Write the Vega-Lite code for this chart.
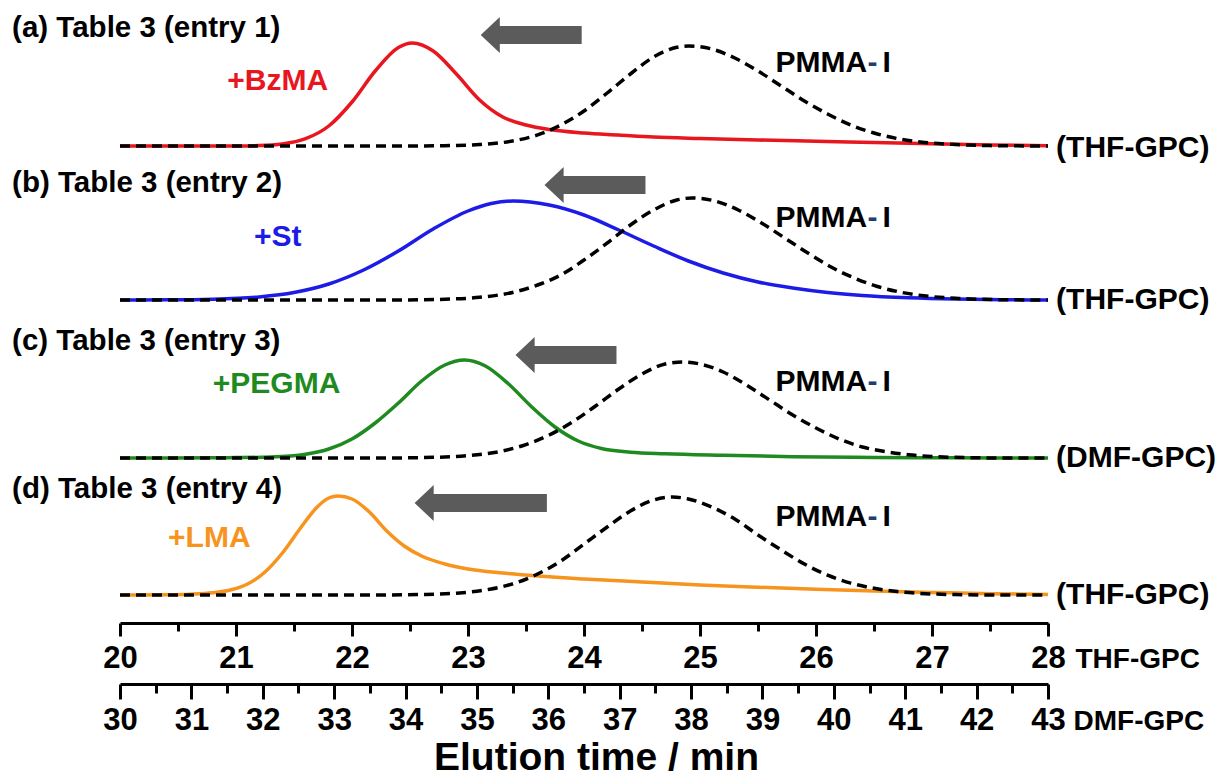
{
  "$schema": "https://vega.github.io/schema/vega-lite/v6.json",
  "width": 928,
  "height": 612,
  "autosize": {"type": "none"},
  "padding": {"left": 120, "top": 11, "right": 170, "bottom": 153},
  "background": "white",
  "config": {"view": {"stroke": null}, "font": "Liberation Sans"},
  "datasets": {
    "a_sample": [{"time":20,"signal":0},{"time":21,"signal":0.001},{"time":21.2,"signal":0.004},{"time":21.4,"signal":0.02},{"time":21.6,"signal":0.073},{"time":21.8,"signal":0.2},{"time":22,"signal":0.44},{"time":22.2,"signal":0.75},{"time":22.4,"signal":0.985},{"time":22.52,"signal":1.03},{"time":22.7,"signal":0.95},{"time":22.9,"signal":0.72},{"time":23.1,"signal":0.46},{"time":23.3,"signal":0.29},{"time":23.5,"signal":0.21},{"time":23.7,"signal":0.165},{"time":24,"signal":0.13},{"time":24.3,"signal":0.11},{"time":24.6,"signal":0.09},{"time":25,"signal":0.075},{"time":25.5,"signal":0.06},{"time":26,"signal":0.048},{"time":26.5,"signal":0.035},{"time":27,"signal":0.022},{"time":27.5,"signal":0.011},{"time":28,"signal":0.003}],
    "a_pmma": [{"time":20,"signal":0},{"time":22.5,"signal":0},{"time":22.8,"signal":0.003},{"time":23.1,"signal":0.015},{"time":23.4,"signal":0.053},{"time":23.6,"signal":0.111},{"time":23.8,"signal":0.21},{"time":24,"signal":0.35},{"time":24.2,"signal":0.53},{"time":24.4,"signal":0.72},{"time":24.6,"signal":0.89},{"time":24.8,"signal":0.987},{"time":24.9,"signal":1.0},{"time":25.1,"signal":0.97},{"time":25.3,"signal":0.88},{"time":25.5,"signal":0.75},{"time":25.7,"signal":0.6},{"time":25.9,"signal":0.45},{"time":26.1,"signal":0.32},{"time":26.3,"signal":0.21},{"time":26.5,"signal":0.13},{"time":26.7,"signal":0.075},{"time":26.9,"signal":0.04},{"time":27.2,"signal":0.015},{"time":27.5,"signal":0.004},{"time":28,"signal":0}],
    "b_sample": [{"time":20,"signal":0},{"time":20.4,"signal":0.0015},{"time":20.8,"signal":0.008},{"time":21.2,"signal":0.031},{"time":21.5,"signal":0.075},{"time":21.8,"signal":0.16},{"time":22.1,"signal":0.3},{"time":22.4,"signal":0.49},{"time":22.7,"signal":0.71},{"time":23,"signal":0.89},{"time":23.2,"signal":0.965},{"time":23.39,"signal":0.99},{"time":23.7,"signal":0.95},{"time":24,"signal":0.85},{"time":24.3,"signal":0.7},{"time":24.6,"signal":0.54},{"time":24.9,"signal":0.39},{"time":25.2,"signal":0.27},{"time":25.5,"signal":0.18},{"time":25.8,"signal":0.12},{"time":26.1,"signal":0.075},{"time":26.4,"signal":0.045},{"time":26.8,"signal":0.022},{"time":27.2,"signal":0.009},{"time":27.6,"signal":0.003},{"time":28,"signal":0}],
    "b_pmma": [{"time":20,"signal":0},{"time":22.4,"signal":0},{"time":22.8,"signal":0.0075},{"time":23.1,"signal":0.027},{"time":23.4,"signal":0.08},{"time":23.6,"signal":0.15},{"time":23.8,"signal":0.25},{"time":24,"signal":0.4},{"time":24.2,"signal":0.57},{"time":24.4,"signal":0.75},{"time":24.6,"signal":0.9},{"time":24.8,"signal":1.0},{"time":24.93,"signal":1.02},{"time":25.13,"signal":0.99},{"time":25.33,"signal":0.9},{"time":25.53,"signal":0.77},{"time":25.73,"signal":0.62},{"time":25.93,"signal":0.47},{"time":26.13,"signal":0.33},{"time":26.33,"signal":0.22},{"time":26.53,"signal":0.135},{"time":26.73,"signal":0.078},{"time":26.93,"signal":0.042},{"time":27.23,"signal":0.016},{"time":27.53,"signal":0.004},{"time":28,"signal":0}],
    "c_sample": [{"time":20,"signal":0},{"time":20.8,"signal":0.002},{"time":21,"signal":0.004},{"time":21.3,"signal":0.01},{"time":21.6,"signal":0.038},{"time":21.8,"signal":0.09},{"time":22,"signal":0.19},{"time":22.2,"signal":0.35},{"time":22.4,"signal":0.55},{"time":22.6,"signal":0.77},{"time":22.8,"signal":0.93},{"time":22.97,"signal":0.98},{"time":23.15,"signal":0.92},{"time":23.35,"signal":0.74},{"time":23.55,"signal":0.51},{"time":23.75,"signal":0.31},{"time":23.95,"signal":0.17},{"time":24.15,"signal":0.095},{"time":24.4,"signal":0.058},{"time":24.7,"signal":0.042},{"time":25.2,"signal":0.027},{"time":25.8,"signal":0.013},{"time":26.5,"signal":0.005},{"time":27.2,"signal":0.002},{"time":28,"signal":0}],
    "c_pmma": [{"time":20,"signal":0},{"time":22.3,"signal":0},{"time":22.7,"signal":0.0065},{"time":23,"signal":0.024},{"time":23.3,"signal":0.071},{"time":23.5,"signal":0.134},{"time":23.7,"signal":0.23},{"time":23.9,"signal":0.36},{"time":24.1,"signal":0.52},{"time":24.3,"signal":0.69},{"time":24.5,"signal":0.84},{"time":24.7,"signal":0.94},{"time":24.85,"signal":0.96},{"time":25,"signal":0.94},{"time":25.2,"signal":0.86},{"time":25.4,"signal":0.73},{"time":25.6,"signal":0.58},{"time":25.8,"signal":0.43},{"time":26,"signal":0.3},{"time":26.2,"signal":0.19},{"time":26.4,"signal":0.11},{"time":26.6,"signal":0.063},{"time":26.8,"signal":0.033},{"time":27,"signal":0.015},{"time":27.3,"signal":0.004},{"time":27.6,"signal":0},{"time":28,"signal":0}],
    "d_sample": [{"time":20,"signal":0},{"time":20.4,"signal":0.003},{"time":20.6,"signal":0.008},{"time":20.8,"signal":0.022},{"time":20.95,"signal":0.05},{"time":21.1,"signal":0.11},{"time":21.25,"signal":0.23},{"time":21.4,"signal":0.42},{"time":21.55,"signal":0.66},{"time":21.7,"signal":0.88},{"time":21.8,"signal":0.97},{"time":21.88,"signal":0.99},{"time":22,"signal":0.96},{"time":22.15,"signal":0.83},{"time":22.3,"signal":0.64},{"time":22.45,"signal":0.49},{"time":22.6,"signal":0.39},{"time":22.8,"signal":0.31},{"time":23,"signal":0.26},{"time":23.3,"signal":0.22},{"time":23.6,"signal":0.19},{"time":24,"signal":0.16},{"time":24.5,"signal":0.13},{"time":25,"signal":0.1},{"time":25.5,"signal":0.078},{"time":26,"signal":0.057},{"time":26.5,"signal":0.04},{"time":27,"signal":0.026},{"time":27.5,"signal":0.013},{"time":28,"signal":0.005}],
    "d_pmma": [{"time":20,"signal":0},{"time":22.2,"signal":0},{"time":22.6,"signal":0.005},{"time":22.9,"signal":0.018},{"time":23.2,"signal":0.06},{"time":23.4,"signal":0.117},{"time":23.6,"signal":0.21},{"time":23.8,"signal":0.34},{"time":24,"signal":0.51},{"time":24.2,"signal":0.68},{"time":24.4,"signal":0.84},{"time":24.6,"signal":0.95},{"time":24.76,"signal":0.98},{"time":24.9,"signal":0.96},{"time":25.1,"signal":0.88},{"time":25.3,"signal":0.76},{"time":25.5,"signal":0.6},{"time":25.7,"signal":0.45},{"time":25.9,"signal":0.31},{"time":26.1,"signal":0.198},{"time":26.3,"signal":0.119},{"time":26.5,"signal":0.067},{"time":26.7,"signal":0.034},{"time":26.9,"signal":0.016},{"time":27.2,"signal":0.004},{"time":27.5,"signal":0},{"time":28,"signal":0}],
    "arrows": [
      {"panel":"a","time":23.11,"time2":23.98,"signal":1.11},
      {"panel":"b","time":23.66,"time2":24.53,"signal":1.15},
      {"panel":"c","time":23.41,"time2":24.28,"signal":1.03},
      {"panel":"d","time":22.54,"time2":23.68,"signal":0.92}
    ],
    "labels": [
      {"panel":"a","role":"panel","text":"(a) Table 3 (entry 1)","time":19.07,"signal":1.18},
      {"panel":"a","role":"sample","text":"+BzMA","time":21.36,"signal":0.65},
      {"panel":"a","role":"pmma","text":"PMMA","time":25.65,"signal":0.83},
      {"panel":"a","role":"gpc","text":"(THF-GPC)","time":28.07,"signal":-0.02},
      {"panel":"b","role":"panel","text":"(b) Table 3 (entry 2)","time":19.07,"signal":1.17},
      {"panel":"b","role":"sample","text":"+St","time":21.36,"signal":0.63},
      {"panel":"b","role":"pmma","text":"PMMA","time":25.65,"signal":0.82},
      {"panel":"b","role":"gpc","text":"(THF-GPC)","time":28.07,"signal":0},
      {"panel":"c","role":"panel","text":"(c) Table 3 (entry 3)","time":19.07,"signal":1.17},
      {"panel":"c","role":"sample","text":"+PEGMA","time":21.35,"signal":0.74},
      {"panel":"c","role":"pmma","text":"PMMA","time":25.65,"signal":0.76},
      {"panel":"c","role":"gpc","text":"(DMF-GPC)","time":28.07,"signal":0},
      {"panel":"d","role":"panel","text":"(d) Table 3 (entry 4)","time":19.07,"signal":1.06},
      {"panel":"d","role":"sample","text":"+LMA","time":20.77,"signal":0.57},
      {"panel":"d","role":"pmma","text":"PMMA","time":25.65,"signal":0.78},
      {"panel":"d","role":"gpc","text":"(THF-GPC)","time":28.07,"signal":0}
    ]
  },
  "layer": [
    {
      "encoding": {
        "x": {"field": "time", "type": "quantitative", "scale": {"domain": [20, 28]}, "axis": null},
        "y": {"field": "signal", "type": "quantitative", "scale": {"domain": [-4.77, 1.35]}, "axis": null}
      },
      "layer": [
        {"data": {"name": "a_sample"}, "mark": {"type": "line", "color": "#e8161f", "strokeWidth": 3.5, "interpolate": "monotone"}},
        {"data": {"name": "a_pmma"}, "mark": {"type": "line", "color": "black", "strokeWidth": 3.5, "strokeDash": [10, 6], "interpolate": "monotone"}},
        {"data": {"name": "arrows"}, "transform": [{"filter": "datum.panel === 'a'"}], "mark": {"type": "rule", "color": "#5b5b5b", "strokeWidth": 18, "strokeCap": "butt", "xOffset": 12}, "encoding": {"x2": {"field": "time2"}}},
        {"data": {"name": "arrows"}, "transform": [{"filter": "datum.panel === 'a'"}], "mark": {"type": "point", "shape": "M-0.53,0L0.53,-1L0.53,1Z", "size": 1296, "filled": true, "opacity": 1, "color": "#5b5b5b", "strokeWidth": 0, "xOffset": 9.5}},
        {"data": {"name": "labels"}, "transform": [{"filter": "datum.panel === 'a' && datum.role === 'panel'"}], "mark": {"type": "text", "align": "left", "baseline": "middle", "fontSize": 29.5, "fontWeight": "bold", "color": "black"}, "encoding": {"text": {"field": "text"}}},
        {"data": {"name": "labels"}, "transform": [{"filter": "datum.panel === 'a' && datum.role === 'sample'"}], "mark": {"type": "text", "align": "center", "baseline": "middle", "fontSize": 30, "fontWeight": "bold", "color": "#e8161f"}, "encoding": {"text": {"field": "text"}}},
        {"data": {"name": "labels"}, "transform": [{"filter": "datum.panel === 'a' && datum.role === 'gpc'"}], "mark": {"type": "text", "align": "left", "baseline": "middle", "fontSize": 30, "fontWeight": "bold", "color": "black"}, "encoding": {"text": {"field": "text"}}},
        {"data": {"name": "labels"}, "transform": [{"filter": "datum.panel === 'a' && datum.role === 'pmma'"}], "mark": {"type": "text", "align": "left", "baseline": "middle", "fontSize": 30, "fontWeight": "bold", "color": "black"}, "encoding": {"text": {"field": "text"}}},
        {"data": {"name": "labels"}, "transform": [{"filter": "datum.panel === 'a' && datum.role === 'pmma'"}], "mark": {"type": "text", "align": "left", "baseline": "middle", "fontSize": 30, "fontWeight": "bold", "color": "#1f3f6f", "text": "-", "dx": 92}},
        {"data": {"name": "labels"}, "transform": [{"filter": "datum.panel === 'a' && datum.role === 'pmma'"}], "mark": {"type": "text", "align": "left", "baseline": "middle", "fontSize": 30, "fontWeight": "bold", "color": "black", "text": "I", "dx": 107}}
      ]
    },
    {
      "encoding": {
        "x": {"field": "time", "type": "quantitative", "scale": {"domain": [20, 28]}, "axis": null},
        "y": {"field": "signal", "type": "quantitative", "scale": {"domain": [-3.23, 2.89]}, "axis": null}
      },
      "layer": [
        {"data": {"name": "b_sample"}, "mark": {"type": "line", "color": "#1c1ce6", "strokeWidth": 3.5, "interpolate": "monotone"}},
        {"data": {"name": "b_pmma"}, "mark": {"type": "line", "color": "black", "strokeWidth": 3.5, "strokeDash": [10, 6], "interpolate": "monotone"}},
        {"data": {"name": "arrows"}, "transform": [{"filter": "datum.panel === 'b'"}], "mark": {"type": "rule", "color": "#5b5b5b", "strokeWidth": 18, "strokeCap": "butt", "xOffset": 12}, "encoding": {"x2": {"field": "time2"}}},
        {"data": {"name": "arrows"}, "transform": [{"filter": "datum.panel === 'b'"}], "mark": {"type": "point", "shape": "M-0.53,0L0.53,-1L0.53,1Z", "size": 1296, "filled": true, "opacity": 1, "color": "#5b5b5b", "strokeWidth": 0, "xOffset": 9.5}},
        {"data": {"name": "labels"}, "transform": [{"filter": "datum.panel === 'b' && datum.role === 'panel'"}], "mark": {"type": "text", "align": "left", "baseline": "middle", "fontSize": 29.5, "fontWeight": "bold", "color": "black"}, "encoding": {"text": {"field": "text"}}},
        {"data": {"name": "labels"}, "transform": [{"filter": "datum.panel === 'b' && datum.role === 'sample'"}], "mark": {"type": "text", "align": "center", "baseline": "middle", "fontSize": 30, "fontWeight": "bold", "color": "#1c1ce6"}, "encoding": {"text": {"field": "text"}}},
        {"data": {"name": "labels"}, "transform": [{"filter": "datum.panel === 'b' && datum.role === 'gpc'"}], "mark": {"type": "text", "align": "left", "baseline": "middle", "fontSize": 30, "fontWeight": "bold", "color": "black"}, "encoding": {"text": {"field": "text"}}},
        {"data": {"name": "labels"}, "transform": [{"filter": "datum.panel === 'b' && datum.role === 'pmma'"}], "mark": {"type": "text", "align": "left", "baseline": "middle", "fontSize": 30, "fontWeight": "bold", "color": "black"}, "encoding": {"text": {"field": "text"}}},
        {"data": {"name": "labels"}, "transform": [{"filter": "datum.panel === 'b' && datum.role === 'pmma'"}], "mark": {"type": "text", "align": "left", "baseline": "middle", "fontSize": 30, "fontWeight": "bold", "color": "#1f3f6f", "text": "-", "dx": 92}},
        {"data": {"name": "labels"}, "transform": [{"filter": "datum.panel === 'b' && datum.role === 'pmma'"}], "mark": {"type": "text", "align": "left", "baseline": "middle", "fontSize": 30, "fontWeight": "bold", "color": "black", "text": "I", "dx": 107}}
      ]
    },
    {
      "encoding": {
        "x": {"field": "time", "type": "quantitative", "scale": {"domain": [20, 28]}, "axis": null},
        "y": {"field": "signal", "type": "quantitative", "scale": {"domain": [-1.65, 4.47]}, "axis": null}
      },
      "layer": [
        {"data": {"name": "c_sample"}, "mark": {"type": "line", "color": "#1f8a1f", "strokeWidth": 3.5, "interpolate": "monotone"}},
        {"data": {"name": "c_pmma"}, "mark": {"type": "line", "color": "black", "strokeWidth": 3.5, "strokeDash": [10, 6], "interpolate": "monotone"}},
        {"data": {"name": "arrows"}, "transform": [{"filter": "datum.panel === 'c'"}], "mark": {"type": "rule", "color": "#5b5b5b", "strokeWidth": 18, "strokeCap": "butt", "xOffset": 12}, "encoding": {"x2": {"field": "time2"}}},
        {"data": {"name": "arrows"}, "transform": [{"filter": "datum.panel === 'c'"}], "mark": {"type": "point", "shape": "M-0.53,0L0.53,-1L0.53,1Z", "size": 1296, "filled": true, "opacity": 1, "color": "#5b5b5b", "strokeWidth": 0, "xOffset": 9.5}},
        {"data": {"name": "labels"}, "transform": [{"filter": "datum.panel === 'c' && datum.role === 'panel'"}], "mark": {"type": "text", "align": "left", "baseline": "middle", "fontSize": 29.5, "fontWeight": "bold", "color": "black"}, "encoding": {"text": {"field": "text"}}},
        {"data": {"name": "labels"}, "transform": [{"filter": "datum.panel === 'c' && datum.role === 'sample'"}], "mark": {"type": "text", "align": "center", "baseline": "middle", "fontSize": 30, "fontWeight": "bold", "color": "#1f8a1f"}, "encoding": {"text": {"field": "text"}}},
        {"data": {"name": "labels"}, "transform": [{"filter": "datum.panel === 'c' && datum.role === 'gpc'"}], "mark": {"type": "text", "align": "left", "baseline": "middle", "fontSize": 30, "fontWeight": "bold", "color": "black"}, "encoding": {"text": {"field": "text"}}},
        {"data": {"name": "labels"}, "transform": [{"filter": "datum.panel === 'c' && datum.role === 'pmma'"}], "mark": {"type": "text", "align": "left", "baseline": "middle", "fontSize": 30, "fontWeight": "bold", "color": "black"}, "encoding": {"text": {"field": "text"}}},
        {"data": {"name": "labels"}, "transform": [{"filter": "datum.panel === 'c' && datum.role === 'pmma'"}], "mark": {"type": "text", "align": "left", "baseline": "middle", "fontSize": 30, "fontWeight": "bold", "color": "#1f3f6f", "text": "-", "dx": 92}},
        {"data": {"name": "labels"}, "transform": [{"filter": "datum.panel === 'c' && datum.role === 'pmma'"}], "mark": {"type": "text", "align": "left", "baseline": "middle", "fontSize": 30, "fontWeight": "bold", "color": "black", "text": "I", "dx": 107}}
      ]
    },
    {
      "encoding": {
        "x": {"field": "time", "type": "quantitative", "scale": {"domain": [20, 28]}, "axis": null},
        "y": {"field": "signal", "type": "quantitative", "scale": {"domain": [-0.28, 5.84]}, "axis": null}
      },
      "layer": [
        {"data": {"name": "d_sample"}, "mark": {"type": "line", "color": "#f7941e", "strokeWidth": 3.5, "interpolate": "monotone"}},
        {"data": {"name": "d_pmma"}, "mark": {"type": "line", "color": "black", "strokeWidth": 3.5, "strokeDash": [10, 6], "interpolate": "monotone"}},
        {"data": {"name": "arrows"}, "transform": [{"filter": "datum.panel === 'd'"}], "mark": {"type": "rule", "color": "#5b5b5b", "strokeWidth": 18, "strokeCap": "butt", "xOffset": 12}, "encoding": {"x2": {"field": "time2"}}},
        {"data": {"name": "arrows"}, "transform": [{"filter": "datum.panel === 'd'"}], "mark": {"type": "point", "shape": "M-0.53,0L0.53,-1L0.53,1Z", "size": 1296, "filled": true, "opacity": 1, "color": "#5b5b5b", "strokeWidth": 0, "xOffset": 9.5}},
        {"data": {"name": "labels"}, "transform": [{"filter": "datum.panel === 'd' && datum.role === 'panel'"}], "mark": {"type": "text", "align": "left", "baseline": "middle", "fontSize": 29.5, "fontWeight": "bold", "color": "black"}, "encoding": {"text": {"field": "text"}}},
        {"data": {"name": "labels"}, "transform": [{"filter": "datum.panel === 'd' && datum.role === 'sample'"}], "mark": {"type": "text", "align": "center", "baseline": "middle", "fontSize": 30, "fontWeight": "bold", "color": "#f7941e"}, "encoding": {"text": {"field": "text"}}},
        {"data": {"name": "labels"}, "transform": [{"filter": "datum.panel === 'd' && datum.role === 'gpc'"}], "mark": {"type": "text", "align": "left", "baseline": "middle", "fontSize": 30, "fontWeight": "bold", "color": "black"}, "encoding": {"text": {"field": "text"}}},
        {"data": {"name": "labels"}, "transform": [{"filter": "datum.panel === 'd' && datum.role === 'pmma'"}], "mark": {"type": "text", "align": "left", "baseline": "middle", "fontSize": 30, "fontWeight": "bold", "color": "black"}, "encoding": {"text": {"field": "text"}}},
        {"data": {"name": "labels"}, "transform": [{"filter": "datum.panel === 'd' && datum.role === 'pmma'"}], "mark": {"type": "text", "align": "left", "baseline": "middle", "fontSize": 30, "fontWeight": "bold", "color": "#1f3f6f", "text": "-", "dx": 92}},
        {"data": {"name": "labels"}, "transform": [{"filter": "datum.panel === 'd' && datum.role === 'pmma'"}], "mark": {"type": "text", "align": "left", "baseline": "middle", "fontSize": 30, "fontWeight": "bold", "color": "black", "text": "I", "dx": 107}}
      ]
    },
    {
      "data": {"values": [{"time": 20}, {"time": 28}]},
      "mark": {"type": "point", "opacity": 0},
      "encoding": {
        "x": {"field": "time", "type": "quantitative", "scale": {"domain": [20, 28]},
          "axis": {"orient": "bottom", "values": [20, 21, 22, 23, 24, 25, 26, 27, 28], "format": "d", "grid": false,
            "domainColor": "black", "domainWidth": 3, "tickColor": "black", "tickWidth": 3, "tickSize": 13,
            "labelFont": "Liberation Sans", "labelFontWeight": "bold", "labelFontSize": 31, "labelColor": "black",
            "labelBaseline": "middle", "labelPadding": 22, "labelFlush": false, "labelOverlap": false, "labelBound": false,
            "title": "THF-GPC", "titleFont": "Liberation Sans", "titleFontWeight": "bold", "titleFontSize": 28, "titleColor": "black",
            "titleX": 955, "titleY": 36, "titleAlign": "left", "titleBaseline": "middle", "titleAngle": 0}}
      }
    },
    {
      "data": {"values": [{"time": 20}, {"time": 28}]},
      "mark": {"type": "point", "opacity": 0},
      "encoding": {
        "x": {"field": "time", "type": "quantitative", "scale": {"domain": [20, 28]},
          "axis": {"orient": "bottom", "values": [20.5, 21.5, 22.5, 23.5, 24.5, 25.5, 26.5, 27.5], "grid": false, "domain": false, "labels": false,
            "tickColor": "black", "tickWidth": 3, "tickSize": 8, "title": null}}
      }
    },
    {
      "data": {"values": [{"dmf": 30}, {"dmf": 43}]},
      "mark": {"type": "point", "opacity": 0},
      "encoding": {
        "x": {"field": "dmf", "type": "quantitative", "scale": {"domain": [30, 43]},
          "axis": {"orient": "bottom", "offset": 61, "values": [30, 31, 32, 33, 34, 35, 36, 37, 38, 39, 40, 41, 42, 43], "format": "d", "grid": false,
            "domainColor": "black", "domainWidth": 3, "tickColor": "black", "tickWidth": 3, "tickSize": 15,
            "labelFont": "Liberation Sans", "labelFontWeight": "bold", "labelFontSize": 31, "labelColor": "black",
            "labelBaseline": "middle", "labelPadding": 21, "labelFlush": false, "labelOverlap": false, "labelBound": false,
            "title": "DMF-GPC", "titleFont": "Liberation Sans", "titleFontWeight": "bold", "titleFontSize": 28, "titleColor": "black",
            "titleX": 953, "titleY": 37, "titleAlign": "left", "titleBaseline": "middle", "titleAngle": 0}}
      }
    },
    {
      "data": {"values": [{"dmf": 30}, {"dmf": 43}]},
      "mark": {"type": "point", "opacity": 0},
      "encoding": {
        "x": {"field": "dmf", "type": "quantitative", "scale": {"domain": [30, 43]},
          "axis": {"orient": "bottom", "offset": 61, "values": [30.5, 31.5, 32.5, 33.5, 34.5, 35.5, 36.5, 37.5, 38.5, 39.5, 40.5, 41.5, 42.5], "grid": false, "domain": false, "labels": false,
            "tickColor": "black", "tickWidth": 3, "tickSize": 9,
            "title": "Elution time / min", "titleFont": "Liberation Sans", "titleFontWeight": "bold", "titleFontSize": 39, "titleColor": "black",
            "titleX": 476, "titleY": 73, "titleAlign": "center", "titleBaseline": "middle", "titleAngle": 0}}
      }
    }
  ],
  "resolve": {"scale": {"x": "independent", "y": "independent"}, "axis": {"x": "independent", "y": "independent"}}
}
